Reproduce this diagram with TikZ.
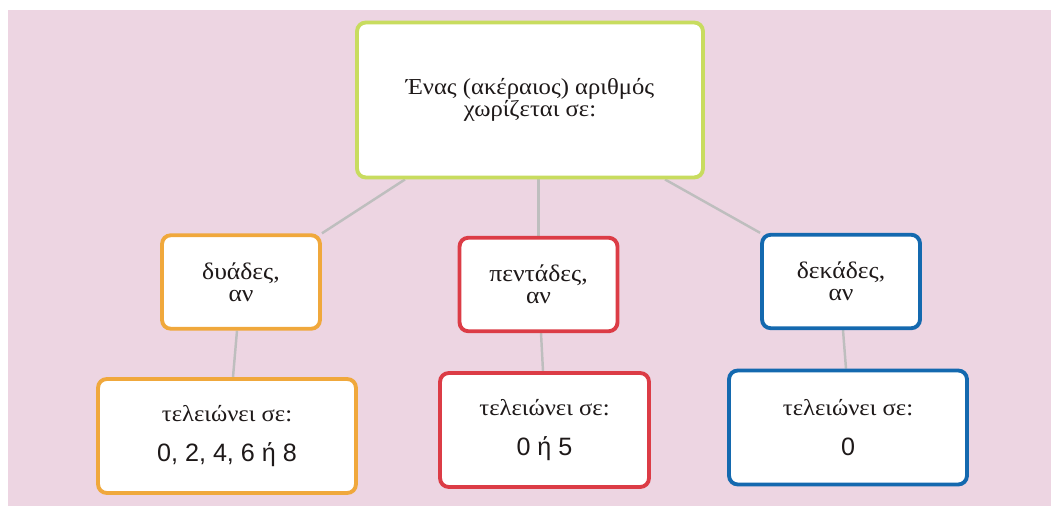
\documentclass[tikz,border=0pt]{standalone}
\usepackage{fontspec}
\setmainfont{Liberation Serif}[FakeStretch=1.08]
\setsansfont{Liberation Sans}
\usetikzlibrary{positioning,backgrounds}
\definecolor{bgpink}{RGB}{237,213,226}
\definecolor{rootgreen}{RGB}{200,220,95}
\definecolor{twoorange}{RGB}{240,168,60}
\definecolor{fivered}{RGB}{220,60,70}
\definecolor{tenblue}{RGB}{20,105,175}
\definecolor{linkgrey}{RGB}{190,190,190}
\definecolor{inkdark}{RGB}{30,25,25}
\newcommand{\digitsf}[1]{{\sffamily\fontsize{14.3}{16}\selectfont #1}}

\begin{document}
\begin{tikzpicture}[
    x=0.02cm, y=-0.02cm,
    box/.style={rectangle, draw, fill=white, line width=2.2pt,
        rounded corners=5pt, align=center, text=inkdark, inner sep=0pt},
    rootbox/.style={box, minimum width=6.92cm, minimum height=3.1cm,
        font=\fontsize{13}{11}\selectfont},
    kindbox/.style={box, minimum width=3.16cm, minimum height=1.87cm,
        font=\fontsize{13.5}{12.5}\selectfont},
    endbox/.style={box, minimum height=2.28cm,
        font=\fontsize{13}{15.6}\selectfont},
    link/.style={draw=linkgrey, line width=1.4pt}
]
\useasboundingbox (0,0) rectangle (1051,506);

% root
\node[rootbox, draw=rootgreen] (root) at (530,100)
    {Ένας (ακέραιος) αριθμός\\χωρίζεται σε:};

% second row
\node[kindbox, draw=twoorange] (twos) at (241,282) {δυάδες,\\αν};
\node[kindbox, draw=fivered] (fives) at (538.5,284.5) {πεντάδες,\\αν};
\node[kindbox, draw=tenblue] (tens) at (841,281.5) {δεκάδες,\\αν};

% third row
\node[endbox, draw=twoorange, minimum width=5.16cm] (twoend) at (227,436)
    {τελειώνει σε:\\[7pt]\digitsf{0, 2, 4, 6 ή 8}};
\node[endbox, draw=fivered, minimum width=4.18cm] (fiveend) at (544.5,430)
    {τελειώνει σε:\\[7pt]\digitsf{0 ή 5}};
\node[endbox, draw=tenblue, minimum width=4.76cm] (tenend) at (848,427.5)
    {τελειώνει σε:\\[7pt]\digitsf{0}};

\begin{scope}[on background layer]
\fill[bgpink] (8,10) rectangle (1051,506);
\draw[link] ([xshift=-2.5cm]root.south) -- (twos.north east);
\draw[link] (fives.north |- root.south) -- (fives.north);
\draw[link] ([xshift=2.7cm]root.south) -- (tens.north west);
\draw[link] ([xshift=-0.08cm]twos.south) -- ([xshift=0.12cm]twoend.north);
\draw[link] ([xshift=0.05cm]fives.south) -- ([xshift=-0.03cm]fiveend.north);
\draw[link] ([xshift=0.04cm]tens.south) -- ([xshift=-0.04cm]tenend.north);
\end{scope}
\end{tikzpicture}
\end{document}
